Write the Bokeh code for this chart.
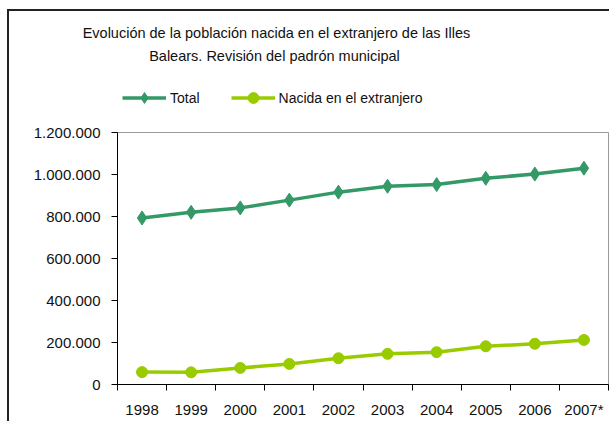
from bokeh.plotting import figure
from bokeh.models import (Range1d, FixedTicker, LinearAxis, Legend, LegendItem, Label,
                          ColumnDataSource)
from bokeh.embed import file_html
from bokeh.resources import INLINE

years = ["1998", "1999", "2000", "2001", "2002", "2003", "2004", "2005", "2006", "2007*"]
total = [793000, 820000, 841000, 878000, 916000, 944000, 952000, 982000, 1002000, 1030000]
foreign = [59000, 58000, 79000, 98000, 125000, 146000, 154000, 182000, 194000, 212000]
y_ticks = [0, 200000, 400000, 600000, 800000, 1000000, 1200000]
title_lines = ["Evolución de la población nacida en el extranjero de las Illes",
               "Balears.  Revisión del padrón municipal"]
series_names = ["Total", "Nacida en el extranjero"]

FONT = "Liberation Sans"
C_TOTAL = "#339966"
C_FOREIGN = "#99CC00"
TXT = "#111111"
W = 602
DIAMOND = 14
DOT = 11
LW = 3.5

# ---------- header: title + legend ----------
HH = 100
h = figure(width=W, height=HH, output_backend="svg", toolbar_location=None,
           x_range=Range1d(0, 1), y_range=Range1d(0, 1),
           x_axis_type=None, y_axis_type=None,
           min_border_left=0, min_border_right=0, min_border_top=0, min_border_bottom=0)
h.outline_line_color = None
h.background_fill_color = "white"
h.border_fill_color = "white"
h.styles = {"border-left": "2px solid #222222", "border-top": "2px solid #222222",
            "margin-top": "9px", "margin-left": "7px"}

for i, t in enumerate(title_lines):
    h.add_layout(Label(x=267, y=79 - 23 * i, x_units="screen", y_units="screen", text=t,
                       text_align="center", text_baseline="middle",
                       text_font=FONT, text_font_size="14.5px", text_color=TXT))

# legend samples (renderers with no visible point, styled like the series)
dummy = ColumnDataSource(dict(x=[float("nan")], y=[float("nan")]))
hl1 = h.line("x", "y", source=dummy, line_color=C_TOTAL, line_width=LW)
hm1 = h.scatter("x", "y", source=dummy, marker="diamond", size=DIAMOND,
                fill_color=C_TOTAL, line_color=C_TOTAL)
hl2 = h.line("x", "y", source=dummy, line_color=C_FOREIGN, line_width=LW)
hm2 = h.scatter("x", "y", source=dummy, marker="circle", size=DOT,
                fill_color=C_FOREIGN, line_color=C_FOREIGN)
legend = Legend(items=[LegendItem(label=series_names[0], renderers=[hl1, hm1]),
                       LegendItem(label=series_names[1], renderers=[hl2, hm2])],
                orientation="horizontal", location=(113, 0),
                glyph_width=44, glyph_height=27, label_standoff=4, spacing=31,
                padding=0, margin=0, border_line_color=None, background_fill_alpha=0,
                label_text_font=FONT, label_text_font_size="14px", label_text_color=TXT)
h.add_layout(legend, "center")

# ---------- main chart ----------
xs = [i + 0.5 for i in range(len(years))]
src = ColumnDataSource(dict(x=xs, total=total, foreign=foreign))

p = figure(width=W, height=312, output_backend="svg", toolbar_location=None,
           x_range=Range1d(0, len(years)), y_range=Range1d(0, 1200000),
           x_axis_type=None, y_axis_type=None,
           min_border_left=108, min_border_right=3, min_border_top=23, min_border_bottom=37)
p.outline_line_color = "#999999"
p.outline_line_width = 1
p.background_fill_color = "white"
p.border_fill_color = "white"
p.styles = {"border-left": "2px solid #222222", "margin-left": "7px"}

yax = LinearAxis(ticker=FixedTicker(ticks=y_ticks, minor_ticks=[]))
yax.major_label_overrides = {v: (f"{v:,}".replace(",", ".")) for v in y_ticks}
yax.axis_line_color = "black"
yax.major_tick_line_color = "black"
yax.major_tick_out = 6
yax.major_tick_in = 0
yax.minor_tick_line_color = None
yax.major_label_standoff = 11
yax.major_label_text_font = FONT
yax.major_label_text_font_size = "15px"
yax.major_label_text_color = TXT
p.add_layout(yax, "left")

xax = LinearAxis(ticker=FixedTicker(ticks=xs, minor_ticks=list(range(len(years) + 1))))
xax.major_label_overrides = {x: y for x, y in zip(xs, years)}
xax.axis_line_color = "black"
xax.major_tick_line_color = None
xax.major_tick_out = 0
xax.major_tick_in = 0
xax.minor_tick_line_color = "black"
xax.minor_tick_out = 6
xax.minor_tick_in = 0
xax.major_label_standoff = 10
xax.major_label_text_font = FONT
xax.major_label_text_font_size = "15px"
xax.major_label_text_color = TXT
p.add_layout(xax, "below")

p.xgrid.visible = False
p.ygrid.ticker = FixedTicker(ticks=y_ticks[1:-1])
p.ygrid.grid_line_color = "#333333"
p.ygrid.grid_line_width = 1

p.line("x", "total", source=src, line_color=C_TOTAL, line_width=LW)
p.scatter("x", "total", source=src, marker="diamond", size=DIAMOND,
          fill_color=C_TOTAL, line_color=C_TOTAL)
p.line("x", "foreign", source=src, line_color=C_FOREIGN, line_width=LW)
p.scatter("x", "foreign", source=src, marker="circle", size=DOT,
          fill_color=C_FOREIGN, line_color=C_FOREIGN)

open("out.html", "w").write(file_html([h, p], INLINE))
